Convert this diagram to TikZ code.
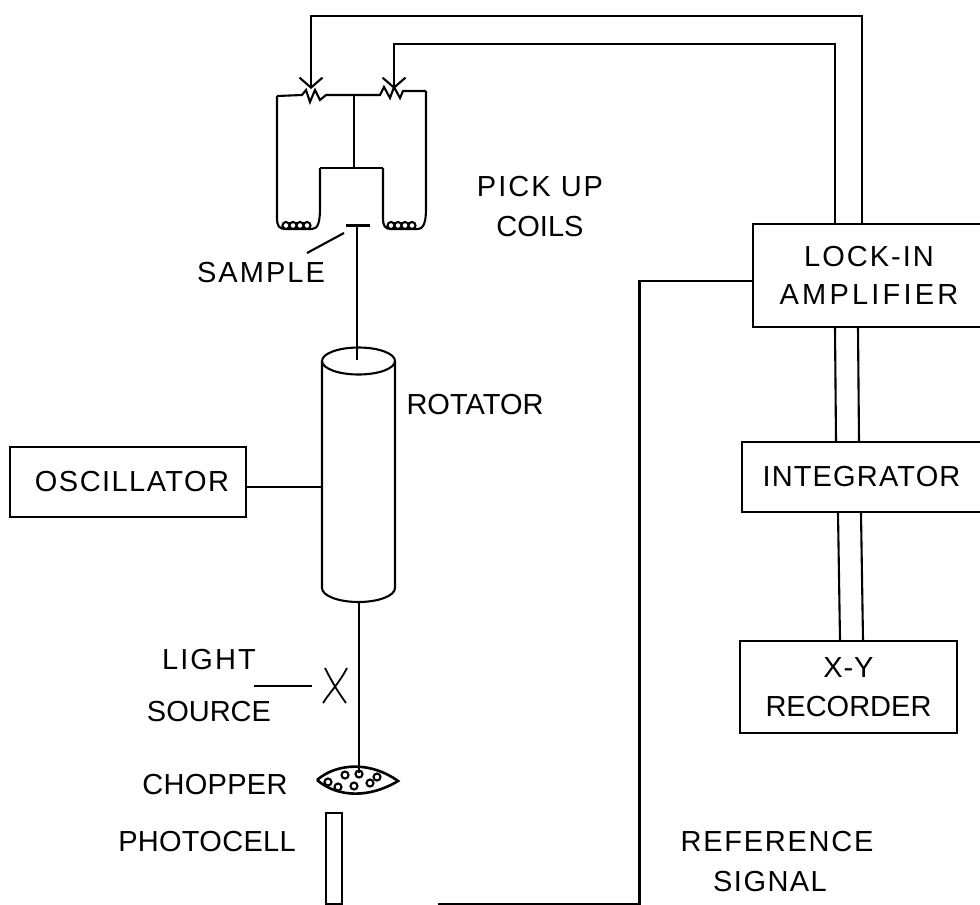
\documentclass[tikz,border=0pt]{standalone}
\usepackage{fontspec}
\setmainfont{Liberation Sans}
\usetikzlibrary{arrows.meta}
\newcommand{\spc}[2]{{\addfontfeature{LetterSpace=#1}#2}}

\begin{document}
\begin{tikzpicture}[x=1pt, y=-1pt, line width=2.1pt]
    % Styles
    \tikzstyle{block} = [rectangle, draw, inner sep=0pt, font=\fontsize{29}{38}\selectfont, align=center]
    \tikzstyle{tag} = [inner sep=0pt, font=\fontsize{29}{38}\selectfont, align=center]
    \tikzstyle{sense} = [-{Straight Barb[length=10pt, width=23pt]}]
    \tikzstyle{thin wire} = [line width=1.8pt]
    \useasboundingbox (0,0) rectangle (980,905);

    % Instrument boxes (right column)
    \node [block, minimum width=232pt, minimum height=103pt] (lockin) at (869,275.5) {\spc{7}{LOCK-IN}\\\spc{11}{AMPLIFIER}};
    \node [block, minimum width=243pt, minimum height=70pt] (integ) at (863.5,477) {\raisebox{-3pt}{\spc{4}{INTEGRATOR}}\hspace*{4pt}};
    \node [block, minimum width=217pt, minimum height=92pt] (recorder) at (848.5,687) {\raisebox{-2pt}{\spc{3}{X-Y}}\\\raisebox{-3pt}{RECORDER}};
    \node [block, minimum width=236pt, minimum height=70pt] (osc) at (128,482) {\hspace*{8pt}\raisebox{-3pt}{\spc{5}{OSCILLATOR}}};

    % Labels
    \node [tag] (pickup) at (540,207) {\spc{7}{PICK UP}\\[2pt]COILS};
    \node [tag] (sample) at (261,273) {\spc{7}{SAMPLE}};
    \node [tag] (rotlabel) at (475,405) {ROTATOR};
    \node [tag] (light) at (209,686) {\spc{7}{LIGHT}\\[14pt]SOURCE};
    \node [tag] (choplabel) at (215,785) {\spc{1}{CHOPPER}};
    \node [tag] (photolabel) at (207,842) {\spc{1}{PHOTOCELL}};
    \node [tag] (reflabel) at (777,862) {\spc{6}{REFERENCE}\\[2pt]\spc{5}{SIGNAL}\hspace*{14pt}};

    % Rotator
    \coordinate (rottopl) at (322,361);
    \coordinate (rottopr) at (395,361);
    \coordinate (rotbotl) at (322,588);
    \coordinate (rotfront) at (322,487);
    \draw (rottopl) -- (rotbotl) arc[start angle=180, end angle=360, x radius=36.5pt, y radius=14pt] -- (rottopr);
    \draw (358.5,361) ellipse[x radius=36.5pt, y radius=13.5pt];
    \draw (osc.east |- rotfront) -- (rotfront);

    % Pick up coils
    \coordinate (lend) at (277,96);
    \coordinate (rend) at (426,91);
    \coordinate (mid) at (354,95);
    \coordinate (ctop) at (354,168);
    \coordinate (lin) at (320,168);
    \coordinate (rin) at (383,168);
    \draw (lend) -- (302,95) -- (306,90) -- (310,102) -- (315,90) -- (320,100) -- (326,95) -- (mid);
    \draw (mid) -- (380,95) -- (384,87) -- (390,98) -- (394,87) -- (400,98) -- (403,91) -- (rend);
    \draw (mid) -- (ctop);
    \draw [thin wire] (lin) -- (rin);
    % left coil
    \draw (lend) -- (277,218) .. controls (277,226) and (279,229) .. (286,229)
        arc[start angle=270, delta angle=360, radius=3.5pt] -- ++(7,0)
        arc[start angle=270, delta angle=360, radius=3.5pt] -- ++(7,0)
        arc[start angle=270, delta angle=360, radius=3.5pt] -- ++(7,0)
        arc[start angle=270, delta angle=360, radius=3.5pt]
        -- (312,229) .. controls (318,229) and (320,222) .. (320,208) -- (lin);
    % right coil
    \draw (rin) -- (383,218) .. controls (383,226) and (385,229) .. (391,229)
        arc[start angle=270, delta angle=360, radius=3.5pt] -- ++(7,0)
        arc[start angle=270, delta angle=360, radius=3.5pt] -- ++(7,0)
        arc[start angle=270, delta angle=360, radius=3.5pt] -- ++(7,0)
        arc[start angle=270, delta angle=360, radius=3.5pt]
        -- (417,229) .. controls (424,229) and (426,222) .. (426,208) -- (rend);

    % Sample rod
    \coordinate (sampbar) at (357,225);
    \coordinate (sampl) at (346,225);
    \coordinate (sampr) at (370,225);
    \coordinate (rodtop) at (357,360);
    \draw [line width=3pt] (sampl) -- (sampr);
    \draw (sampbar) -- (rodtop);
    \coordinate (samptick) at (344,233);
    \coordinate (sampend) at (307,253);
    \draw (samptick) -- (sampend);

    % Light path
    \coordinate (rotbase) at (359,602);
    \coordinate (chopin) at (359,773);
    \draw (rotbase) -- (chopin);
    \coordinate (xa) at (325,668);
    \coordinate (xb) at (346,703);
    \coordinate (xc) at (347,668);
    \coordinate (xd) at (323,703);
    \draw [thin wire] (xa) .. controls (332,682) and (338,692) .. (xb);
    \draw [thin wire] (xc) .. controls (340,682) and (330,692) .. (xd);
    \coordinate (lightstart) at (254,686);
    \coordinate (lightend) at (312,686);
    \draw (lightstart) -- (lightend);

    % Chopper
    \coordinate (chopl) at (317,780);
    \coordinate (chopr) at (398,781);
    \draw [line width=2.6pt] (chopl) .. controls (338,762) and (372,762) .. (chopr) .. controls (370,798) and (338,798) .. (chopl);
    \foreach \cx/\cy in {328/782, 338/787, 345/775, 354/786, 359/774, 370/783, 377/777} {
        \draw (\cx,\cy) circle (3.5pt);
    }

    % Photocell
    \node [draw, minimum width=16pt, minimum height=91pt, inner sep=0pt] (photo) at (334,858.5) {};

    % Signal wiring
    \coordinate (topl) at (311,16);
    \coordinate (topr) at (862,16);
    \coordinate (wirel) at (394,44);
    \coordinate (wirer) at (835,44);
    \coordinate (ltip) at (311,89);
    \coordinate (rtip) at (394,89);
    \draw [sense] (lockin.north -| topr) -- (topr) -- (topl) -- (ltip);
    \draw [sense] (lockin.north -| wirer) -- (wirer) -- (wirel) -- (rtip);

    % Reference line
    \coordinate (refa) at (750,281);
    \coordinate (refb) at (639.5,281);
    \coordinate (refc) at (639.5,904);
    \coordinate (refd) at (438,904);
    \draw (lockin.west |- refa) -- (refb) -- (refc) -- (refd);

    % Links between instruments
    \draw (lockin.south -| 835,0) -- (integ.north -| 836,0);
    \draw (lockin.south -| 858,0) -- (integ.north -| 859,0);
    \draw (integ.south -| 838,0) -- (recorder.north -| 840,0);
    \draw (integ.south -| 861,0) -- (recorder.north -| 863,0);
\end{tikzpicture}
\end{document}
